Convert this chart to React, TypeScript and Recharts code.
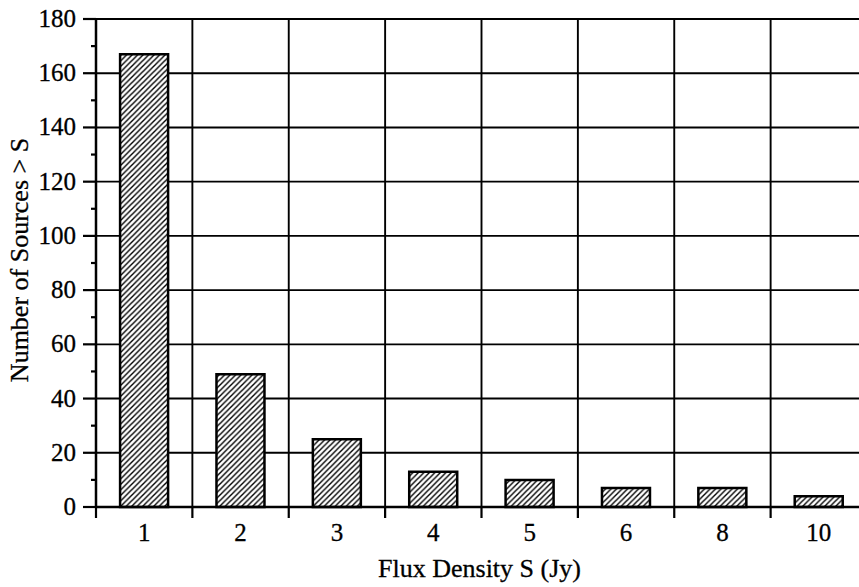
import React from 'react';
import { BarChart, Bar, XAxis, YAxis, CartesianGrid } from 'recharts';

const categories = ['1', '2', '3', '4', '5', '6', '8', '10'];
const counts = [167, 49, 25, 13, 10, 7, 7, 4];
const yTicks = [0, 10, 20, 30, 40, 50, 60, 70, 80, 90, 100, 110, 120, 130, 140, 150, 160, 170, 180];
const yGridValues = [20, 40, 60, 80, 100, 120, 140, 160, 180];
const xTitle = 'Flux Density S (Jy)';
const yTitle = 'Number of Sources > S';

const data = categories.map((c, i) => ({ flux: c, count: counts[i] }));

const W = 880;
const H = 587;
const M = { top: 19, right: 13, bottom: 0, left: 0 };
const Y_W = 96;
const X_H = 80;
const PLOT_W = W - M.left - M.right - Y_W;
const BW = PLOT_W / categories.length;
const FONT = '"Liberation Serif", "Times New Roman", serif';
const FS = 25;

const XTick = (props: any) => {
  const { x, y, payload, index } = props;
  const bx = x - BW / 2;
  const last = index === categories.length - 1;
  return (
    <g>
      <line x1={bx} y1={y} x2={bx} y2={y + 11} stroke="#000" strokeWidth={2.2} />
      {last && <line x1={x + BW / 2} y1={y} x2={x + BW / 2} y2={y + 11} stroke="#000" strokeWidth={2.2} />}
      <text x={x} y={y + 34} textAnchor="middle" fontFamily={FONT} fontSize={FS} fill="#000" stroke="#000" strokeWidth={0.3}>
        {payload.value}
      </text>
    </g>
  );
};

const YTick = (props: any) => {
  const { x, y, payload } = props;
  const major = payload.value % 20 === 0;
  return (
    <g>
      <line x1={major ? x - 13 : x - 5} y1={y} x2={x} y2={y} stroke="#000" strokeWidth={2.2} />
      {major && (
        <text x={x - 20} y={y + 8} textAnchor="end" fontFamily={FONT} fontSize={FS} fill="#000" stroke="#000" strokeWidth={0.3}>
          {payload.value}
        </text>
      )}
    </g>
  );
};

export default function App() {
  return (
    <div style={{ position: 'absolute', left: 0, top: 0, width: 859, height: 587, overflow: 'hidden', background: '#fff' }}>
      <svg width={0} height={0} style={{ position: 'absolute' }}>
        <defs>
          <pattern id="hatch" patternUnits="userSpaceOnUse" width={5.5} height={5.5}>
            <rect width={5.5} height={5.5} fill="#fff" />
            <path d="M-1,1 l2,-2 M0,5.5 l5.5,-5.5 M4.5,6.5 l2,-2" stroke="#000" strokeWidth={1.4} />
          </pattern>
        </defs>
      </svg>
      <BarChart width={W} height={H} data={data} margin={M} barCategoryGap="25%">
        <CartesianGrid
          stroke="#000"
          strokeWidth={1.9}
          verticalCoordinatesGenerator={({ offset }: any) =>
            categories.map((_, i) => offset.left + i * (offset.width / categories.length)).concat([offset.left + offset.width])
          }
          horizontalCoordinatesGenerator={({ offset }: any) =>
            yGridValues.map((v) => offset.top + offset.height * (1 - v / 180))
          }
        />
        <XAxis
          dataKey="flux"
          height={X_H}
          tickSize={0}
          tickMargin={0}
          tickLine={false}
          interval={0}
          axisLine={{ stroke: '#000', strokeWidth: 2.5 }}
          tick={<XTick />}
          label={{
            content: (p: any) => {
              const vb = p.viewBox;
              return (
                <text x={vb.x + vb.width / 2 - 2} y={vb.y + 70} textAnchor="middle" fontFamily={FONT} fontSize={26} fill="#000" stroke="#000" strokeWidth={0.3}>
                  {xTitle}
                </text>
              );
            },
          }}
        />
        <YAxis
          width={Y_W}
          domain={[0, 180]}
          ticks={yTicks}
          interval={0}
          tickSize={0}
          tickMargin={0}
          tickLine={false}
          axisLine={{ stroke: '#000', strokeWidth: 2.5 }}
          tick={<YTick />}
          label={{
            content: (p: any) => {
              const vb = p.viewBox;
              const cy = vb.y + vb.height / 2 - 3;
              const cx = 28;
              return (
                <text x={cx} y={cy} transform={`rotate(-90, ${cx}, ${cy})`} textAnchor="middle" fontFamily={FONT} fontSize={26} fill="#000" stroke="#000" strokeWidth={0.3}>
                  {yTitle}
                </text>
              );
            },
          }}
        />
        <Bar dataKey="count" fill="url(#hatch)" stroke="#000" strokeWidth={2.5} isAnimationActive={false} />
      </BarChart>
    </div>
  );
}
